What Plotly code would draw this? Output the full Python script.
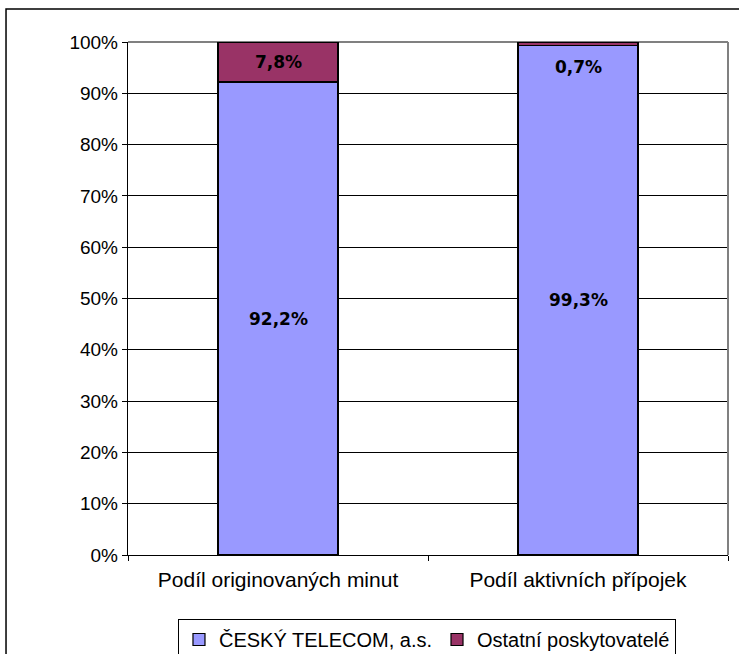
import plotly.graph_objects as go

categories = ["Podíl originovaných minut", "Podíl aktivních přípojek"]
series_names = ["ČESKÝ TELECOM, a.s.", "Ostatní poskytovatelé"]
telecom = [0.922, 0.993]
ostatni = [0.078, 0.007]
colors = ["#9999FF", "#993366"]

def fmt(v):
    return f"{v*100:.1f}%".replace(".", ",")

AXFONT = "Liberation Sans, Arial, sans-serif"
LBLFONT = "DejaVu Sans, Verdana, sans-serif"
LBLSIZE = 17

fig = go.Figure()
for name, vals, col in zip(series_names, [telecom, ostatni], colors):
    fig.add_trace(go.Bar(
        x=categories, y=vals, name=name,
        marker=dict(color=col, line=dict(color="black", width=1.2)),
        hoverinfo="skip",
    ))

annotations = []
for i, cat in enumerate(categories):
    t = telecom[i]
    o = ostatni[i]
    annotations.append(dict(x=cat, y=t / 2, text="<b>" + fmt(t) + "</b>",
                            showarrow=False, xref="x", yref="y",
                            font=dict(family=LBLFONT, size=LBLSIZE, color="black")))
    if o >= 0.05:
        annotations.append(dict(x=cat, y=t + o / 2, text="<b>" + fmt(o) + "</b>",
                                showarrow=False, xref="x", yref="y",
                                font=dict(family=LBLFONT, size=LBLSIZE, color="black")))
    else:
        annotations.append(dict(x=cat, y=t + o, text="<b>" + fmt(o) + "</b>",
                                showarrow=False, xref="x", yref="y",
                                yanchor="top", yshift=-13,
                                font=dict(family=LBLFONT, size=LBLSIZE, color="black")))

shapes = [
    dict(type="rect", xref="paper", yref="paper",
         x0=-0.2033, x1=1.05, y0=-0.3, y1=1.0643,
         line=dict(color="black", width=1.5), layer="above"),
    dict(type="line", xref="paper", yref="paper", x0=0, x1=1, y0=1, y1=1,
         line=dict(color="#808080", width=2), layer="between"),
    dict(type="line", xref="paper", yref="paper", x0=1, x1=1, y0=0, y1=1,
         line=dict(color="#808080", width=2), layer="above"),
]

fig.update_layout(
    width=739, height=654,
    margin=dict(l=128, r=11, t=42, b=99, pad=0, autoexpand=False),
    paper_bgcolor="white", plot_bgcolor="white",
    barmode="stack", bargap=0.6,
    showlegend=True,
    legend=dict(orientation="h", x=0.0833, xanchor="left", y=-0.1248, yanchor="top",
                bordercolor="black", borderwidth=1,
                font=dict(family=AXFONT, size=20, color="black"),
                traceorder="normal", itemwidth=30, tracegroupgap=0),
    annotations=annotations,
    shapes=shapes,
    font=dict(family=AXFONT, size=18, color="black"),
)
fig.update_xaxes(
    automargin=False,
    showline=True, linecolor="black", linewidth=1.2,
    ticks="outside", tickson="boundaries", ticklen=5, tickcolor="black",
    ticklabelstandoff=6,
    tickfont=dict(family=AXFONT, size=21, color="black"),
    showgrid=False,
)
fig.update_yaxes(
    automargin=False,
    range=[0, 1], dtick=0.1, tickformat=".0%",
    showline=True, linecolor="black", linewidth=1.2,
    ticks="outside", ticklen=5, tickcolor="black",
    showgrid=True, gridcolor="black", gridwidth=1,
    zeroline=False,
    tickfont=dict(family=AXFONT, size=19, color="black"),
)
fig.write_html("out.html",
               config={"displayModeBar": False, "staticPlot": True},
               post_script="document.body.style.margin='0';document.body.style.overflow='hidden';")
